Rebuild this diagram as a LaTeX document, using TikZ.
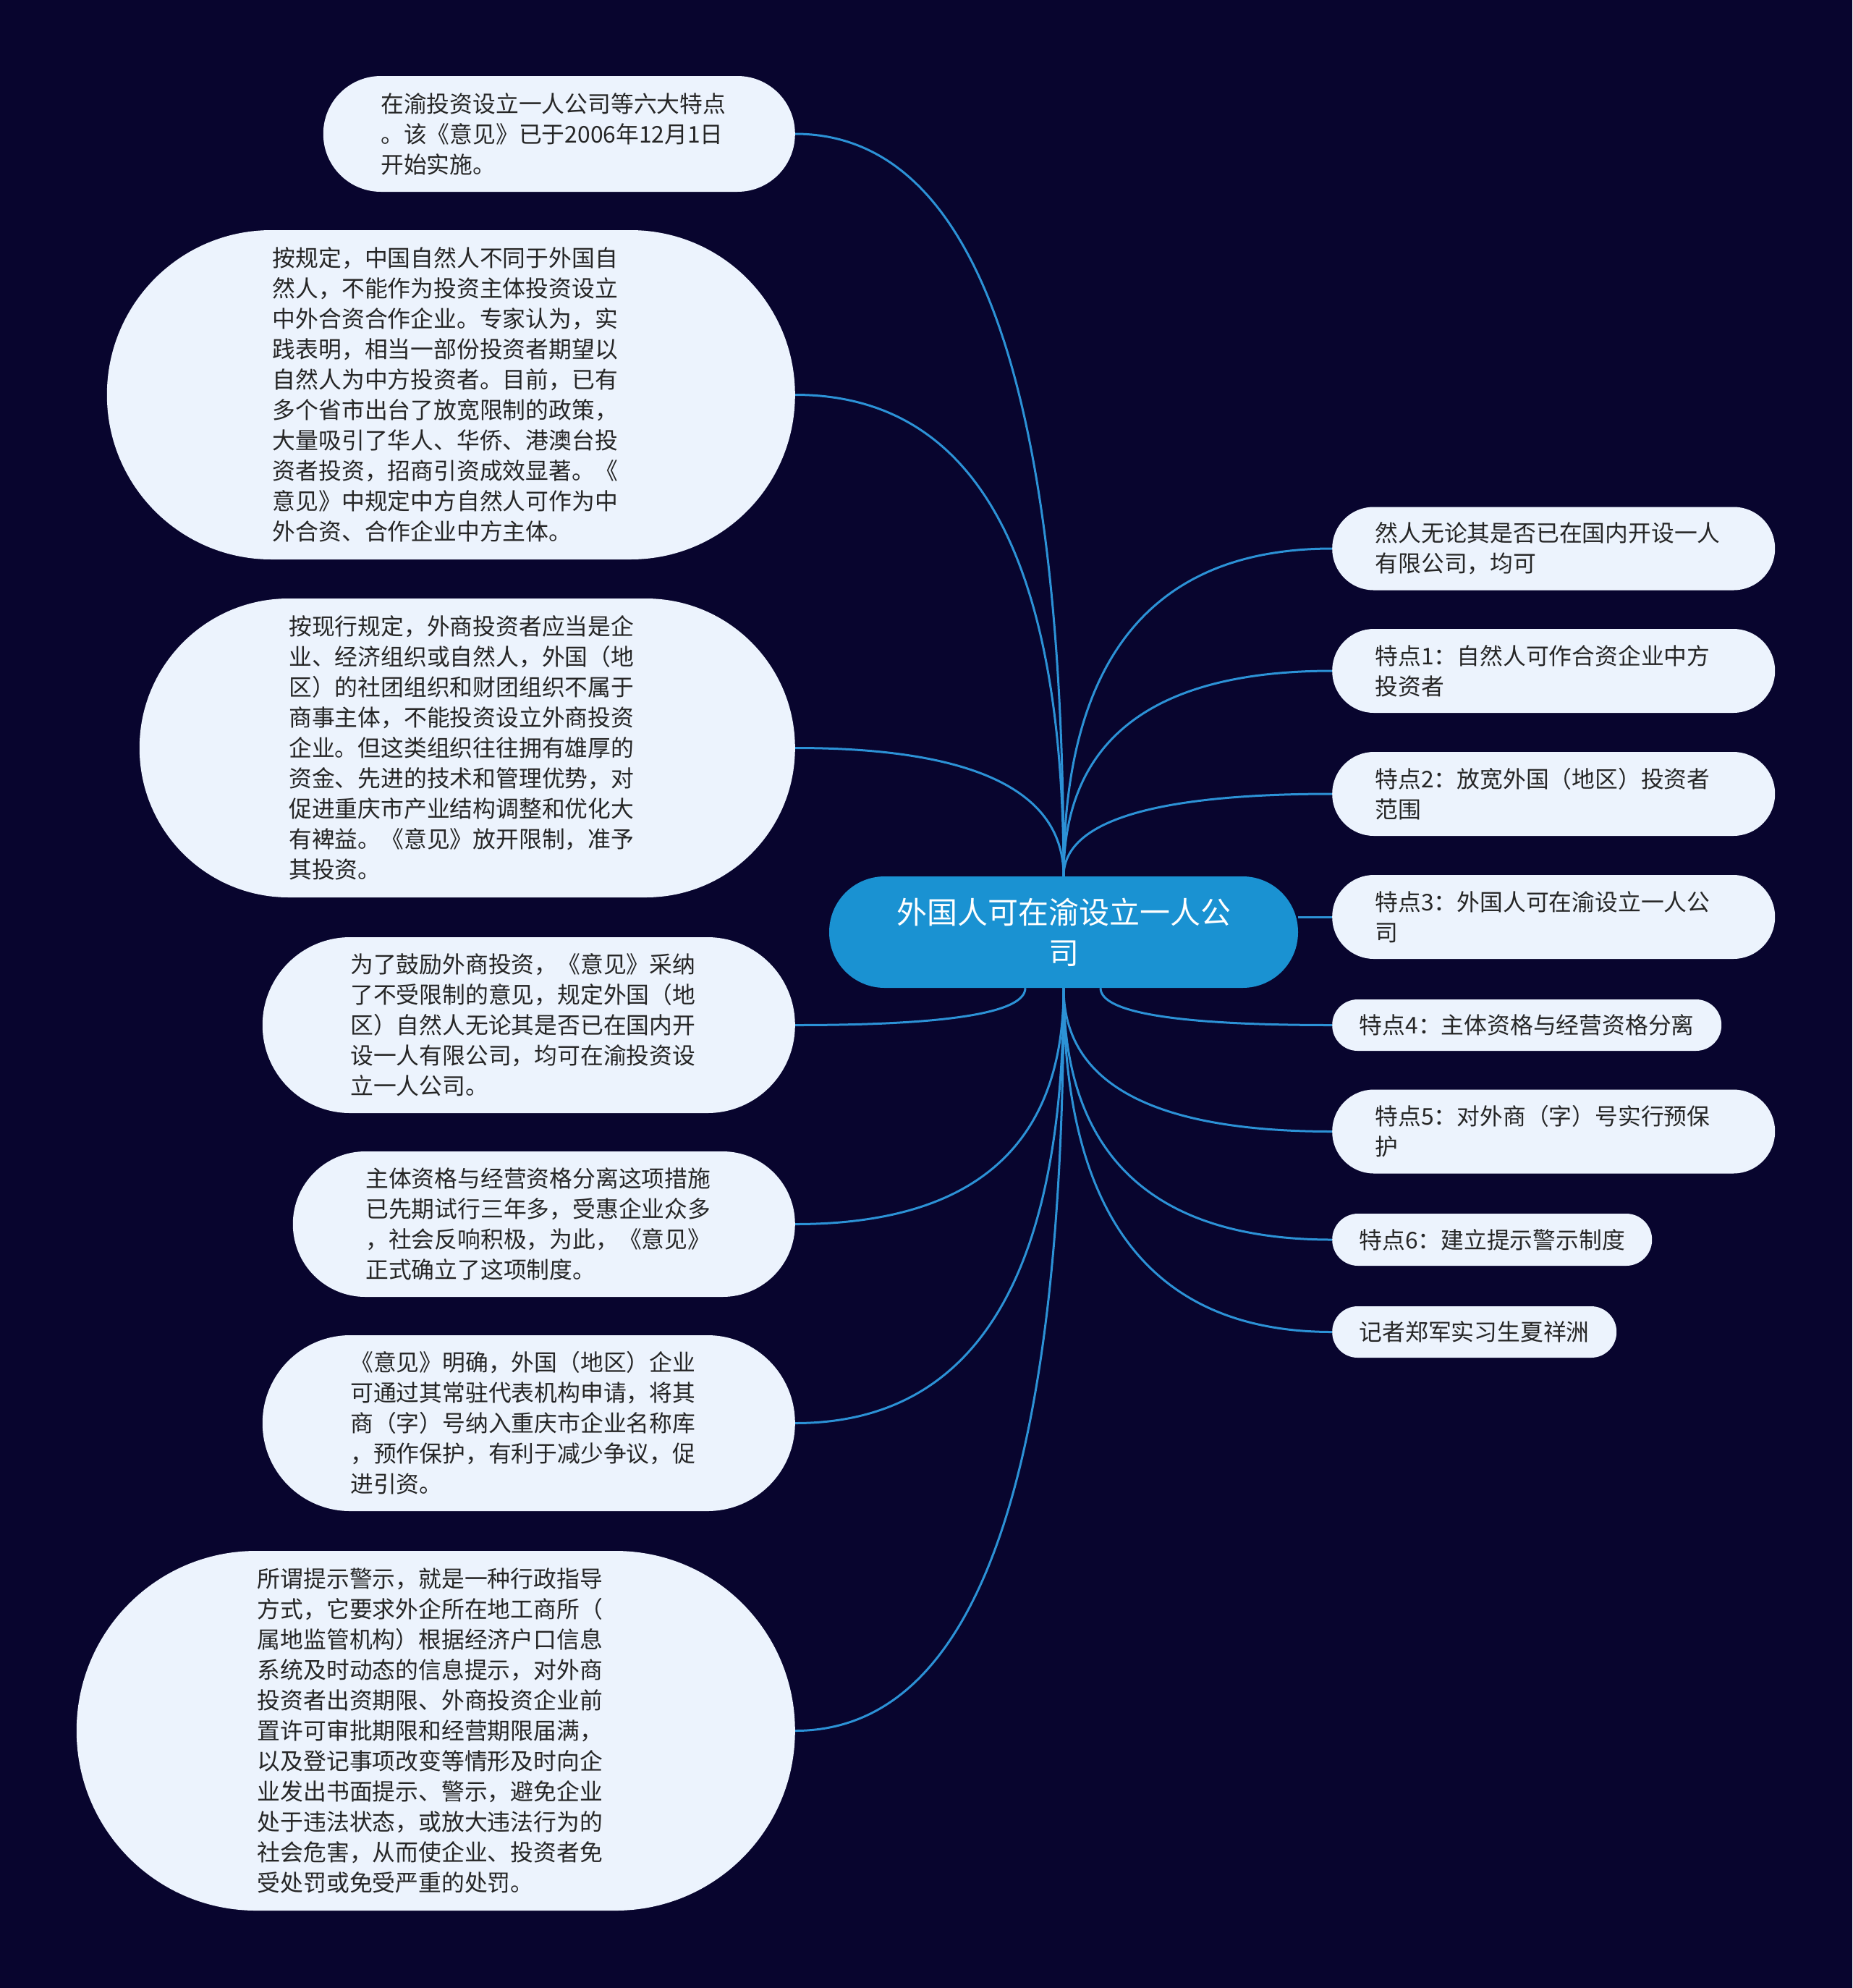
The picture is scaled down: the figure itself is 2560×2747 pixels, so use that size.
\documentclass[tikz,border=0pt]{standalone}
\usepackage{fontspec}
\newfontfamily\cjk{Noto Sans CJK SC}
\usetikzlibrary{calc}
\definecolor{bgcol}{HTML}{08052E}
\definecolor{leaffill}{HTML}{ECF3FD}
\definecolor{conncol}{HTML}{2C92D6}
\definecolor{ctrfill}{HTML}{1A92D2}
\definecolor{txtcol}{HTML}{262626}
\newcommand\mmconn[2]{\draw[conn] (#1) .. controls ($(#1)!0.667!(#1|-#2)$) and ($(#2)!0.667!(#1|-#2)$) .. (#2);}
\tikzset{
  leaf/.style 2 args={rectangle, draw=none, fill=leaffill, text=txtcol,
    font=\cjk\fontsize{31.8}{42}\selectfont, align=left, inner sep=0pt,
    minimum width=#1, minimum height=#2, rounded corners={#2/2-0.3}},
  wrapped/.style={text width=493pt},
  ctr/.style={rectangle, draw=none, fill=ctrfill, text=white,
    font=\cjk\fontsize{42}{56}\selectfont, align=center, inner sep=0pt,
    minimum width=648, minimum height=154, rounded corners=76.7},
  conn/.style={draw=conncol, line width=3pt},
}
\begin{document}
\begin{tikzpicture}[x=1pt,y=-1pt]
\fill[bgcol] (0,0) rectangle (2560,2747);
\useasboundingbox (0,0) rectangle (2560,2747);

\node[ctr] (c) at (1470,1288) {外国人可在渝设立一人公\\司};

% left nodes
\node[leaf={652}{160}, wrapped, anchor=east] (L1) at (1099,185) {在渝投资设立一人公司等六大特点\\。该《意见》已于2006年12月1日\\开始实施。};
\node[leaf={951}{455}, wrapped, anchor=east] (L2) at (1099,545.5) {按规定，中国自然人不同于外国自\\然人，不能作为投资主体投资设立\\中外合资合作企业。专家认为，实\\践表明，相当一部份投资者期望以\\自然人为中方投资者。目前，已有\\多个省市出台了放宽限制的政策，\\大量吸引了华人、华侨、港澳台投\\资者投资，招商引资成效显著。《\\意见》中规定中方自然人可作为中\\外合资、合作企业中方主体。};
\node[leaf={906}{413}, wrapped, anchor=east] (L3) at (1099,1033.5) {按现行规定，外商投资者应当是企\\业、经济组织或自然人，外国（地\\区）的社团组织和财团组织不属于\\商事主体，不能投资设立外商投资\\企业。但这类组织往往拥有雄厚的\\资金、先进的技术和管理优势，对\\促进重庆市产业结构调整和优化大\\有裨益。《意见》放开限制，准予\\其投资。};
\node[leaf={736}{243}, wrapped, anchor=east] (L4) at (1099,1416.5) {为了鼓励外商投资，《意见》采纳\\了不受限制的意见，规定外国（地\\区）自然人无论其是否已在国内开\\设一人有限公司，均可在渝投资设\\立一人公司。};
\node[leaf={694}{201}, wrapped, anchor=east] (L5) at (1099,1691.5) {主体资格与经营资格分离这项措施\\已先期试行三年多，受惠企业众多\\，社会反响积极，为此，《意见》\\正式确立了这项制度。};
\node[leaf={736}{243}, wrapped, anchor=east] (L6) at (1099,1966.5) {《意见》明确，外国（地区）企业\\可通过其常驻代表机构申请，将其\\商（字）号纳入重庆市企业名称库\\，预作保护，有利于减少争议，促\\进引资。};
\node[leaf={993}{497}, wrapped, anchor=east] (L7) at (1099,2391.5) {所谓提示警示，就是一种行政指导\\方式，它要求外企所在地工商所（\\属地监管机构）根据经济户口信息\\系统及时动态的信息提示，对外商\\投资者出资期限、外商投资企业前\\置许可审批期限和经营期限届满，\\以及登记事项改变等情形及时向企\\业发出书面提示、警示，避免企业\\处于违法状态，或放大违法行为的\\社会危害，从而使企业、投资者免\\受处罚或免受严重的处罚。};

% right nodes
\node[leaf={612}{115}, wrapped, anchor=west] (R1) at (1841,758) {然人无论其是否已在国内开设一人\\有限公司，均可};
\node[leaf={612}{116}, wrapped, anchor=west] (R2) at (1841,927) {特点1：自然人可作合资企业中方\\投资者};
\node[leaf={612}{116}, wrapped, anchor=west] (R3) at (1841,1097) {特点2：放宽外国（地区）投资者\\范围};
\node[leaf={612}{116}, wrapped, anchor=west] (R4) at (1841,1267) {特点3：外国人可在渝设立一人公\\司};
\node[leaf={538}{71}, anchor=west] (R5) at (1841,1416.5) {特点4：主体资格与经营资格分离};
\node[leaf={612}{116}, wrapped, anchor=west] (R6) at (1841,1563.5) {特点5：对外商（字）号实行预保\\护};
\node[leaf={442}{72}, anchor=west] (R7) at (1841,1713) {特点6：建立提示警示制度};
\node[leaf={393}{71}, anchor=west] (R8) at (1841,1840.5) {记者郑军实习生夏祥洲};

% start points on the central node
\coordinate (sL4) at ($(c.south)+(-53,0)$);
\coordinate (sR5) at ($(c.south)+(51,0)$);

% connectors
\mmconn{c.north}{L1.east}
\mmconn{c.north}{L2.east}
\mmconn{c.north}{L3.east}
\mmconn{sL4}{L4.east}
\mmconn{c.south}{L5.east}
\mmconn{c.south}{L6.east}
\mmconn{c.south}{L7.east}
\mmconn{c.north}{R1.west}
\mmconn{c.north}{R2.west}
\mmconn{c.north}{R3.west}
\draw[conn] (c.east|-R4.west) -- (R4.west);
\mmconn{sR5}{R5.west}
\mmconn{c.south}{R6.west}
\mmconn{c.south}{R7.west}
\mmconn{c.south}{R8.west}
\end{tikzpicture}
\end{document}
